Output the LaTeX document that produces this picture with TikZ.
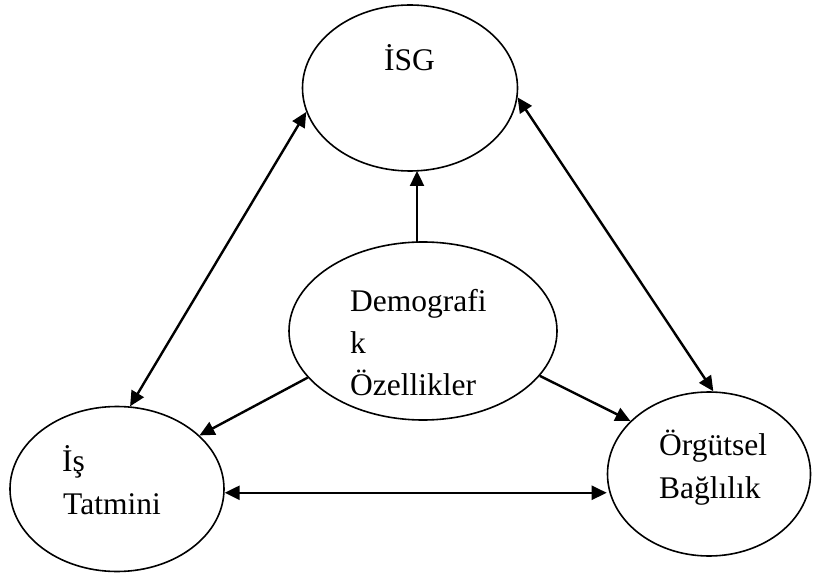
\documentclass[tikz,border=0pt]{standalone}
\usepackage{fontspec}
\setmainfont{Liberation Serif}
\usetikzlibrary{arrows.meta,shapes.geometric}
\begin{document}
\begin{tikzpicture}[x=1pt,y=-1pt,
  oval/.style={draw,ellipse,line width=1.6pt,inner sep=0pt},
  lbl/.style={anchor=base west,inner sep=0pt,font=\fontsize{31.5}{42}\selectfont},
  conn/.style={line width=2.4pt,-{Triangle[length=15pt,width=14pt]}},
  bconn/.style={line width=2.4pt,{Triangle[length=15pt,width=14pt]}-{Triangle[length=15pt,width=14pt]}}]
\useasboundingbox (0,0) rectangle (813,577);
\node[oval,minimum width=215pt,minimum height=166pt] (isg) at (410,88) {};
\node[oval,minimum width=268pt,minimum height=178pt] (demo) at (423,331) {};
\node[oval,minimum width=214pt,minimum height=165pt] (ist) at (117,489) {};
\node[oval,minimum width=203pt,minimum height=164pt] (org) at (709,474) {};
\node[lbl] (tisg) at (384,70.7) {İSG};
\node[lbl] (td1) at (350,311.7) {Demografi};
\node[lbl] (td2) at (350,353.3) {k};
\node[lbl] (td3) at (350,395) {Özellikler};
\node[lbl] (ti1) at (62,471.7) {İş};
\node[lbl] (ti2) at (63,514) {Tatmini};
\node[lbl] (to1) at (659,455) {Örgütsel};
\node[lbl] (to2) at (659,498.3) {Bağlılık};
\coordinate (dtop) at (417,242);
\coordinate (ibot) at (417,171);
\draw[conn] (dtop) -- (ibot);
\draw[bconn] (ist.81) -- (isg.193);
\draw[bconn] (isg.355) -- (org.87);
\draw[conn] (demo.202) -- (ist.33);
\draw[conn] (demo.339) -- (org.146);
\draw[bconn] (ist.358) -- (ist.358 -| org.west);
\end{tikzpicture}
\end{document}
